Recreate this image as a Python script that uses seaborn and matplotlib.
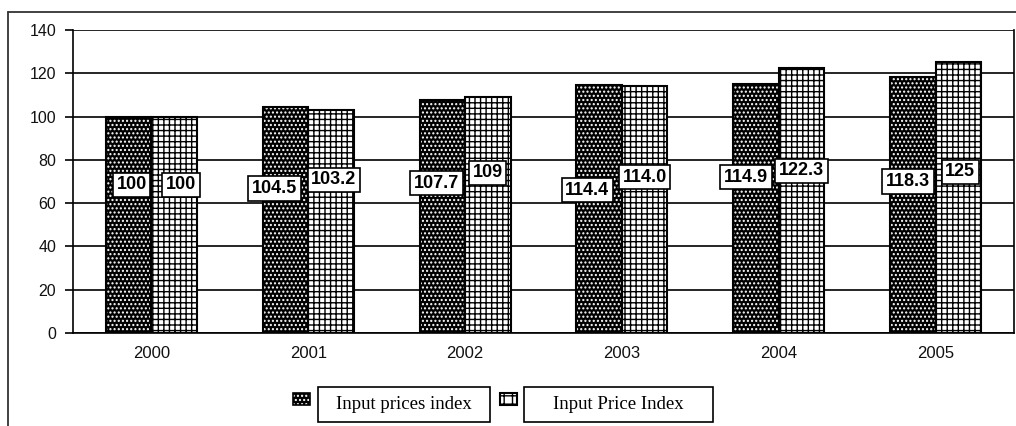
import numpy as np
import pandas as pd
import matplotlib
matplotlib.use("Agg")
import matplotlib.pyplot as plt
import seaborn as sns
from matplotlib.patches import Rectangle
from matplotlib.lines import Line2D

# ---- data ----
years = ["2000", "2001", "2002", "2003", "2004", "2005"]
series_names = ["Input prices index", "Input Price Index"]
prices_index = [100, 104.5, 107.7, 114.4, 114.9, 118.3]
price_index = [100, 103.2, 109, 114.0, 122.3, 125]
prices_labels = ["100", "104.5", "107.7", "114.4", "114.9", "118.3"]
price_labels = ["100", "103.2", "109", "114.0", "122.3", "125"]

# ---- label placement (style) ----
lab_y_dark = [68.4, 66.8, 69.3, 66.0, 72.0, 70.0]
lab_y_light = [68.4, 70.7, 74.0, 72.0, 75.0, 74.4]
lab_dx_dark = [3, -11, -6, -12, -10, -5]   # pixels
lab_dx_light = [7, 3, 0, 0, 0, 2]

df = pd.DataFrame({
    "year": years * 2,
    "value": prices_index + price_index,
    "series": [series_names[0]] * len(years) + [series_names[1]] * len(years),
})

sns.set_theme(style="white")
plt.rcParams["font.family"] = ["Liberation Sans", "DejaVu Sans"]
plt.rcParams["hatch.linewidth"] = 1.0

W, H = 1016, 426
fig = plt.figure(figsize=(W / 100, H / 100), dpi=100)
ax = fig.add_axes([73 / W, 1 - 333 / H, (1014 - 73) / W, (333 - 30) / H])

sns.barplot(data=df, x="year", y="value", hue="series", order=years,
            hue_order=series_names, palette=["black", "white"],
            width=0.58, gap=0, edgecolor="black", linewidth=1.5,
            legend=False, ax=ax, zorder=3)

# dark bars: black with white dots
for bar in ax.containers[0]:
    bar.set_facecolor("black")
    bar.set_edgecolor("white")
    bar.set_linewidth(0)
    bar.set_hatch("....")
    ax.add_patch(Rectangle((bar.get_x(), bar.get_y()), bar.get_width(), bar.get_height(),
                           fill=False, edgecolor="black", linewidth=1.5, zorder=4))
# light bars: white with black grid
for bar in ax.containers[1]:
    bar.set_facecolor("white")
    bar.set_edgecolor("black")
    bar.set_linewidth(1.5)
    bar.set_hatch("+++")

ax.set_ylim(0, 140)
ax.set_xlim(-0.5, len(years) - 0.5)
ax.set_yticks(np.arange(0, 141, 20))
ax.yaxis.grid(True, color="black", linewidth=1.2, zorder=0)
ax.set_axisbelow(True)
ax.set_xlabel("")
ax.set_ylabel("")

# ticks at category boundaries
ax.set_xticks(np.arange(len(years)))
ax.set_xticklabels(years)
ax.set_xticks(np.arange(-0.5, len(years) + 0.5, 1), minor=True)
ax.tick_params(axis="x", which="major", length=0, pad=9, labelsize=12, labelcolor="#111111")
ax.tick_params(axis="x", which="minor", length=5, width=1.2, color="black", direction="out")
ax.tick_params(axis="y", length=6, width=1.2, color="black", direction="out",
               labelsize=11.5, labelcolor="#111111", pad=6, left=True)

for s in ["left", "bottom", "right"]:
    ax.spines[s].set_visible(True)
    ax.spines[s].set_color("black")
    ax.spines[s].set_linewidth(1.2)
ax.spines["top"].set_visible(False)

# value labels
for i, bar in enumerate(ax.containers[0]):
    cx = bar.get_x() + bar.get_width() / 2
    ax.annotate(prices_labels[i], (cx, lab_y_dark[i]), xytext=(lab_dx_dark[i] * 0.72, 0),
                textcoords="offset points", ha="center", va="center",
                fontsize=13, fontweight="bold", color="black", zorder=6,
                bbox=dict(boxstyle="square,pad=0.2", fc="white", ec="black", lw=1.2))
for i, bar in enumerate(ax.containers[1]):
    cx = bar.get_x() + bar.get_width() / 2
    ax.annotate(price_labels[i], (cx, lab_y_light[i]), xytext=(lab_dx_light[i] * 0.72, 0),
                textcoords="offset points", ha="center", va="center",
                fontsize=13, fontweight="bold", color="black", zorder=6,
                bbox=dict(boxstyle="square,pad=0.2", fc="white", ec="black", lw=1.2))

# outer chart frame (top and left edges visible)
fig.add_artist(Line2D([8 / W, 1.0], [1 - 12 / H, 1 - 12 / H], transform=fig.transFigure,
                      color="#333333", linewidth=1.3))
fig.add_artist(Line2D([8 / W, 8 / W], [1 - 12 / H, 0], transform=fig.transFigure,
                      color="#333333", linewidth=1.3))

# legend
def px(x, y):
    return x / W, 1 - y / H

legend_items = [
    (series_names[0], "black", "....", (293, 393, 17, 12), (318, 387, 490, 422)),
    (series_names[1], "white", "++", (500, 393, 17, 12), (524, 387, 713, 422)),
]
for name, fc, hatch, (mx, my, mw, mh), (bx0, by0, bx1, by1) in legend_items:
    x0, y0 = px(mx, my + mh)
    if fc == "black":
        fig.add_artist(Rectangle((x0, y0), mw / W, mh / H, transform=fig.transFigure,
                                 facecolor="black", edgecolor="white", hatch=hatch, linewidth=0))
        fig.add_artist(Rectangle((x0, y0), mw / W, mh / H, transform=fig.transFigure,
                                 fill=False, edgecolor="black", linewidth=1.2))
    else:
        fig.add_artist(Rectangle((x0, y0), mw / W, mh / H, transform=fig.transFigure,
                                 facecolor="white", edgecolor="black", hatch=hatch, linewidth=1.5))
    bx, by = px(bx0, by1)
    fig.add_artist(Rectangle((bx, by), (bx1 - bx0) / W, (by1 - by0) / H,
                             transform=fig.transFigure, fill=False,
                             edgecolor="black", linewidth=1.2))
    tx, ty = px((bx0 + bx1) / 2, (by0 + by1) / 2)
    fig.text(tx, ty, name, ha="center", va="center", fontsize=13.5,
             family=["Liberation Serif", "DejaVu Serif"], color="black")

fig.savefig("out.png", dpi=100)
